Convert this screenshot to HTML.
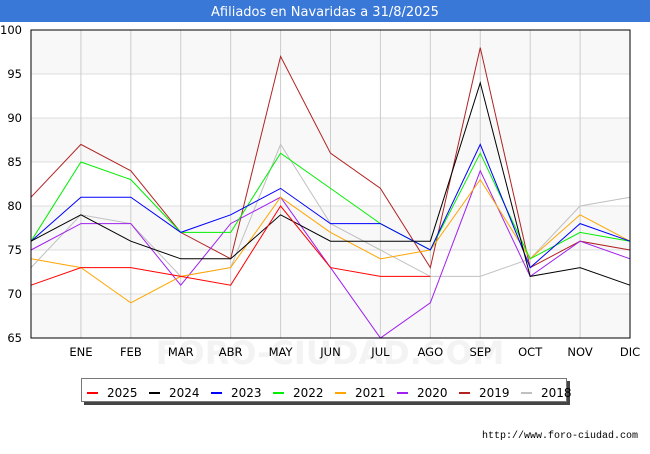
<!DOCTYPE html>
<html><head><meta charset="utf-8"><style>
body{margin:0;width:650px;height:450px;background:#fff;font-family:"DejaVu Sans","Liberation Sans",sans-serif;overflow:hidden}
</style></head><body>
<svg width="650" height="450" xmlns="http://www.w3.org/2000/svg">
<rect x="0" y="0" width="650" height="22" fill="#3a78d8"/>
<text x="325" y="16" text-anchor="middle" fill="#fff" font-size="13">Afiliados en Navaridas a 31/8/2025</text>
<g id="plot"></g>
<text x="638" y="438" text-anchor="end" font-size="10" fill="#000" font-family="Liberation Mono, monospace">http://www.foro-ciudad.com</text>
</svg>
<script>
const months=["","ENE","FEB","MAR","ABR","MAY","JUN","JUL","AGO","SEP","OCT","NOV","DIC"];
const yTicks=[65,70,75,80,85,90,95,100];
const years=["2025","2024","2023","2022","2021","2020","2019","2018"];
const colors=["#ff0000","#000000","#0000ff","#00ee00","#ffa500","#a020f0","#b22222","#c0c0c0"];
const s2025=[71,73,73,72,71,80,73,72,72];
const s2024=[76,79,76,74,74,79,76,76,76,94,72,73,71];
const s2023=[76,81,81,77,79,82,78,78,75,87,73,78,76];
const s2022=[76,85,83,77,77,86,82,78,75,86,74,77,76];
const s2021=[74,73,69,72,73,81,77,74,75,83,74,79,76];
const s2020=[75,78,78,71,78,81,73,65,69,84,72,76,74];
const s2019=[81,87,84,77,74,97,86,82,73,98,73,76,75];
const s2018=[73,79,78,72,73,87,78,75,72,72,74,80,81];
const series=[s2025,s2024,s2023,s2022,s2021,s2020,s2019,s2018];
const NS="http://www.w3.org/2000/svg";
const X0=31,X1=630,Y0=30,Y1=338;
const xS=i=>X0+i*(X1-X0)/12;
const yS=v=>Y1-(v-65)*(Y1-Y0)/35;
const g=document.getElementById('plot');
function el(t,a){const e=document.createElementNS(NS,t);for(const k in a)e.setAttribute(k,a[k]);g.appendChild(e);return e;}
for(let i=0;i<yTicks.length-1;i++){
  if(i%2===0){const r=el('rect',{x:X0,y:yS(yTicks[i+1]),width:X1-X0,height:yS(yTicks[i])-yS(yTicks[i+1]),fill:'#f8f8f8'});
  
  }
}
const wm=el('text',{x:330,y:364,'text-anchor':'middle','font-size':'32',fill:'#f3f3f3','font-weight':'bold'});
wm.textContent='FORO-CIUDAD.COM';


yTicks.forEach(v=>{
  const l=el('line',{x1:X0,x2:X1,y1:yS(v),y2:yS(v),stroke:'#dddddd'});
  
  
  const t=el('text',{x:X0-9,y:yS(v)+4,'text-anchor':'end','font-size':'11.5',fill:'#000'});
  t.textContent=v;
  
  
});
months.forEach((m,i)=>{
  if(i===0)return;
  const l=el('line',{x1:xS(i),x2:xS(i),y1:Y0,y2:Y1,stroke:'#cccccc'});
  
  
  const t=el('text',{x:xS(i),y:356,'text-anchor':'middle','font-size':'11.5',fill:'#000'});
  t.textContent=m;
  
  
});
for(let k=series.length-1;k>=0;k--){
  const p=el('polyline',{points:series[k].map((v,i)=>xS(i)+','+yS(v)).join(' '),fill:'none',stroke:colors[k],'stroke-width':1});
  
  
}
const fr=el('rect',{x:X0,y:Y0,width:X1-X0,height:Y1-Y0,fill:'none',stroke:'#000'});


const sh=el('rect',{x:84,y:381,width:486,height:24,fill:'#444'});


const lb=el('rect',{x:81.5,y:378.5,width:485,height:23,fill:'#fff',stroke:'#777'});


years.forEach((y,k)=>{
  const x=87+k*62;
  const s=el('line',{x1:x,x2:x+11,y1:393,y2:393,stroke:colors[k],'stroke-width':2});
  
  
  const t=el('text',{x:x+20,y:397,'font-size':'12',fill:'#000'});
  t.textContent=y;
  
  
});
</script>
</body></html>
